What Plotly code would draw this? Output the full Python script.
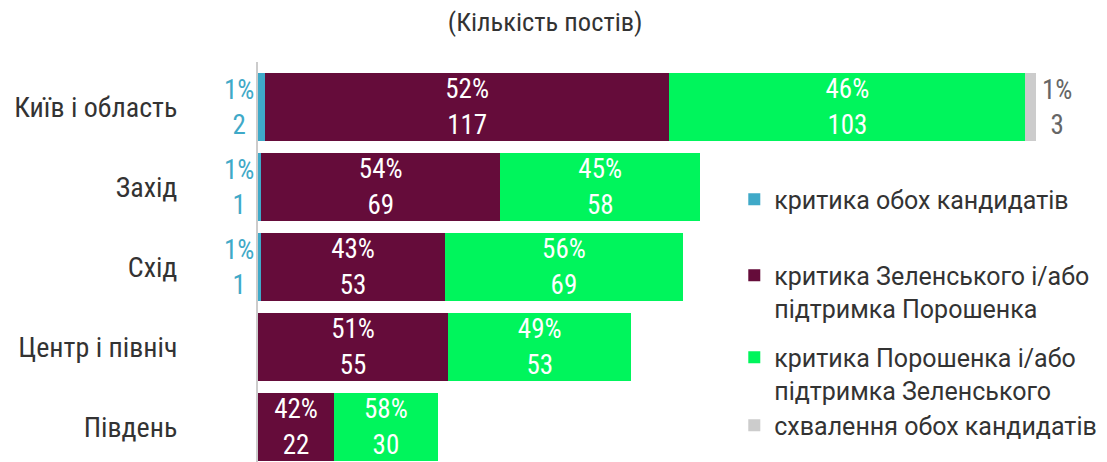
import plotly.graph_objects as go

categories = ["Київ і область", "Захід", "Схід", "Центр і північ", "Південь"]
series_names = [
    "критика обох кандидатів",
    "критика Зеленського і/або<br>підтримка Порошенка",
    "критика Порошенка і/або<br>підтримка Зеленського",
    "схвалення обох кандидатів",
]
both_crit = [2, 1, 1, 0, 0]
crit_zel = [117, 69, 53, 55, 22]
crit_por = [103, 58, 69, 53, 30]
both_appr = [3, 0, 0, 0, 0]
pct_both_crit = ["1%", "1%", "1%", "", ""]
pct_crit_zel = ["52%", "54%", "43%", "51%", "42%"]
pct_crit_por = ["46%", "45%", "56%", "49%", "58%"]
pct_both_appr = ["1%", "", "", "", ""]

colors = ["#3fa9c8", "#650c3a", "#00f55c", "#cccccc"]
FONT = "Liberation Sans Narrow, Roboto Condensed, Roboto, sans-serif"
LFONT = "Roboto, sans-serif"

fig = go.Figure()
values = [both_crit, crit_zel, crit_por, both_appr]
pcts = [pct_both_crit, pct_crit_zel, pct_crit_por, pct_both_appr]
legend_ids = ["legend", "legend2", "legend3", "legend4"]
for i, (name, vals, pc) in enumerate(zip(series_names, values, pcts)):
    inside = i in (1, 2)
    texts = [f"{p}<br>{v}" if (inside and v) else "" for p, v in zip(pc, vals)]
    fig.add_trace(go.Bar(
        y=categories, x=vals, orientation="h", name=name,
        marker=dict(color=colors[i], line=dict(width=0)),
        text=texts, textposition="inside" if inside else "none",
        insidetextanchor="middle", textangle=0, constraintext="none",
        textfont=dict(family=FONT, size=27, color="white"),
        legend=legend_ids[i], hoverinfo="skip",
    ))

# outside labels for tiny segments
for c, v, p in zip(categories, both_crit, pct_both_crit):
    if v:
        fig.add_annotation(x=0, y=c, xref="x", yref="y", text=f"{p}<br>{v}",
                           showarrow=False, xanchor="right", xshift=-2,
                           font=dict(family=FONT, size=27, color=colors[0]))
for c, v, p, a, b, d in zip(categories, both_appr, pct_both_appr, both_crit, crit_zel, crit_por):
    if v:
        fig.add_annotation(x=a + b + d + v, y=c, xref="x", yref="y", text=f"{p}<br>{v}",
                           showarrow=False, xanchor="left", xshift=4,
                           font=dict(family=FONT, size=27, color="#666666"))

leg_common = dict(x=0.561, xanchor="left", yanchor="top", valign="top",
                  font=dict(family=LFONT, size=25, color="#333333"),
                  bgcolor="rgba(0,0,0,0)")
leg_y = [0.7135, 0.5235, 0.3185, 0.1485]

fig.update_layout(
    width=1107, height=462,
    margin=dict(l=258, r=0, t=62, b=0),
    barmode="stack", bargap=0.15,
    paper_bgcolor="white", plot_bgcolor="white",
    font=dict(family=FONT, color="#333333"),
    title=dict(text="(Кількість постів)", x=0.4925, xanchor="center",
               y=0.952, yanchor="middle",
               font=dict(family=FONT, size=26.5, color="#333333")),
    xaxis=dict(range=[0, 245.6], visible=False, fixedrange=True),
    yaxis=dict(range=[4.4375, -0.5625], showgrid=False, showline=True,
               linecolor="#cccccc", linewidth=2, ticks="", automargin=False,
               fixedrange=True,
               ticklabelstandoff=73, tickfont=dict(family=FONT, size=28, color="#333333")),
    legend=dict(y=leg_y[0], **leg_common),
    legend2=dict(y=leg_y[1], **leg_common),
    legend3=dict(y=leg_y[2], **leg_common),
    legend4=dict(y=leg_y[3], **leg_common),
    showlegend=True,
)
fig.write_html("out.html", config={"displayModeBar": False},
               post_script="document.body.style.margin='0';")
